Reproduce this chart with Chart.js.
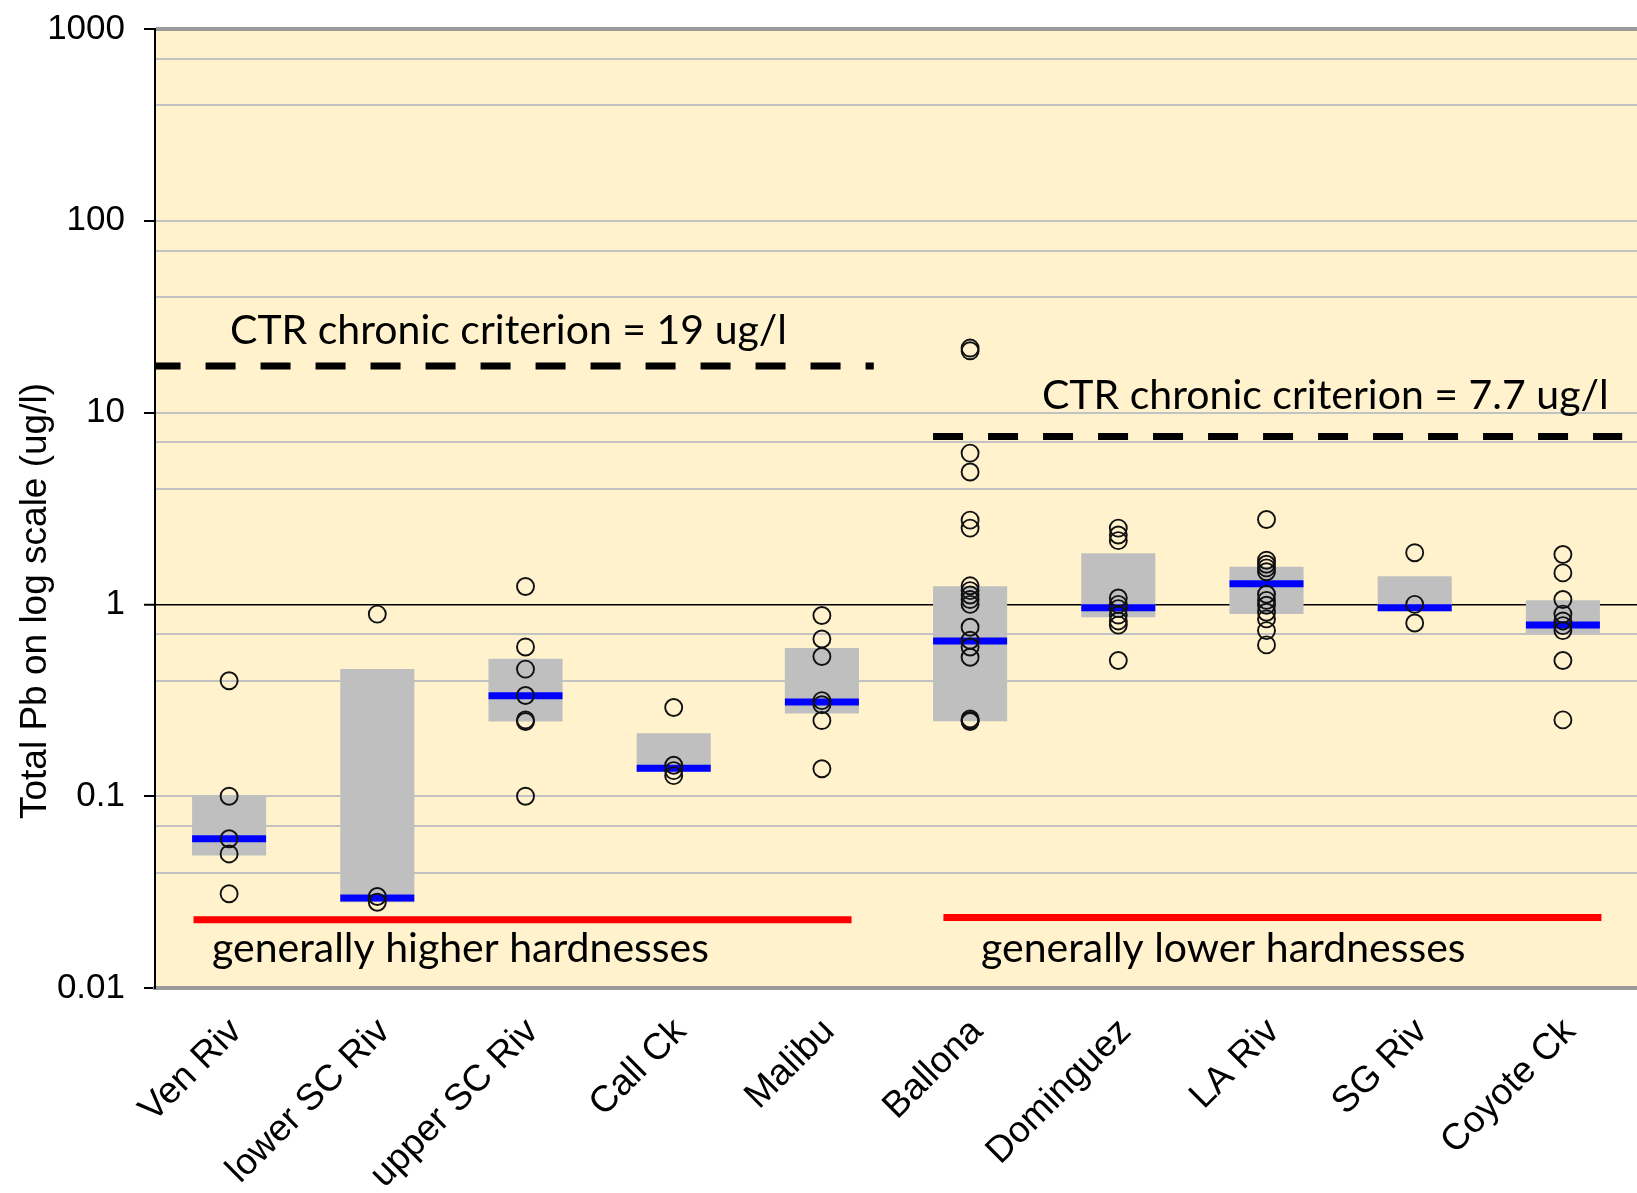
<!DOCTYPE html>
<html>
<head>
<meta charset="utf-8">
<script src="https://cdn.jsdelivr.net/npm/chart.js@4.4.1/dist/chart.umd.min.js"></script>
<style>
  html, body { margin: 0; padding: 0; background: #fff; }
  #wrap { width: 1637px; height: 1193px; position: relative; }
</style>
</head>
<body>
<div id="wrap"><canvas id="pb"></canvas></div>
<script>
(function () {
  'use strict';

  const sites = ['Ven Riv', 'lower SC Riv', 'upper SC Riv', 'Call Ck', 'Malibu',
                 'Ballona', 'Dominguez', 'LA Riv', 'SG Riv', 'Coyote Ck'];

  // individual samples, ug/l
  const venRiv    = [0.40, 0.10, 0.06, 0.05, 0.031];
  const lowerSC   = [0.89, 0.030, 0.028];
  const upperSC   = [1.24, 0.60, 0.46, 0.335, 0.25, 0.245, 0.10];
  const callCk    = [0.29, 0.145, 0.136, 0.128];
  const malibu    = [0.875, 0.66, 0.535, 0.315, 0.30, 0.248, 0.139];
  const ballona   = [21.7, 21.0, 6.15, 4.9, 2.75, 2.5, 1.25, 1.18, 1.12, 1.06, 1.0,
                     0.76, 0.65, 0.6, 0.53, 0.253, 0.248, 0.245];
  const dominguez = [2.5, 2.3, 2.15, 1.08, 1.0, 0.95, 0.88, 0.82, 0.78, 0.51];
  const laRiv     = [2.77, 1.7, 1.62, 1.55, 1.48, 1.13, 1.05, 0.99, 0.91, 0.84, 0.73, 0.615];
  const sgRiv     = [1.86, 1.0, 0.80];
  const coyoteCk  = [1.82, 1.46, 1.06, 0.89, 0.82, 0.775, 0.73, 0.51, 0.25];
  const samples = [venRiv, lowerSC, upperSC, callCk, malibu, ballona, dominguez, laRiv, sgRiv, coyoteCk];

  // grey boxes (quartiles) and blue medians
  const boxLow  = [0.049, 0.028, 0.245, 0.134, 0.27, 0.246, 0.857, 0.89, 0.92, 0.71];
  const boxHigh = [0.10, 0.46, 0.52, 0.213, 0.593, 1.245, 1.85, 1.57, 1.40, 1.05];
  const medians = [0.06, 0.0295, 0.334, 0.14, 0.31, 0.645, 0.96, 1.28, 0.96, 0.78];

  // criterion lines (level as drawn in the picture) and their x spans in site units
  const criterionHigh = 17.5;
  const criterionHighSpan = [-0.53, 4.35];
  const criterionLow = 7.5;
  const criterionLowSpan = [4.75, 9.4];

  // red hardness group bars
  const hardHigh = 0.0227;
  const hardHighSpan = [-0.24, 4.2];
  const hardLow = 0.0233;
  const hardLowSpan = [4.82, 9.26];

  const yMajorTicks = [0.01, 0.1, 1, 10, 100, 1000];
  const yTickLabels = ['0.01', '0.1', '1', '10', '100', '1000'];
  const yTitle = 'Total Pb on log scale (ug/l)';

  const notes = [
    { text: 'CTR chronic criterion = 19 ug/l', x: 0.006, y: 22.9 },
    { text: 'CTR chronic criterion = 7.7 ug/l', x: 5.485, y: 10.5 },
    { text: 'generally higher hardnesses', x: -0.115, y: 0.01365 },
    { text: 'generally lower hardnesses', x: 5.074, y: 0.01365 }
  ];

  function same(a, b) { return Math.abs(a / b - 1) < 1e-9; }
  function majorIndex(v) {
    for (let i = 0; i < yMajorTicks.length; i++) if (same(v, yMajorTicks[i])) return i;
    return -1;
  }
  function span(s, level) { return [{ x: s[0], y: level }, { x: s[1], y: level }]; }

  const pointData = [];
  samples.forEach(function (arr, i) {
    arr.forEach(function (v) { pointData.push({ x: i, y: v }); });
  });

  const plotBg = {
    id: 'plotBg',
    beforeDraw: function (chart) {
      const a = chart.chartArea, ctx = chart.ctx;
      ctx.save();
      ctx.fillStyle = '#fff2cc';
      ctx.fillRect(a.left, a.top, a.right - a.left, a.bottom - a.top);
      ctx.restore();
    }
  };

  const noteText = {
    id: 'noteText',
    afterDatasetsDraw: function (chart) {
      const ctx = chart.ctx, x = chart.scales.x, y = chart.scales.y;
      ctx.save();
      ctx.font = '41px Lato, "Open Sans", sans-serif';
      ctx.fillStyle = '#000';
      ctx.textBaseline = 'alphabetic';
      ctx.textAlign = 'left';
      notes.forEach(function (n) {
        ctx.fillText(n.text, x.getPixelForValue(n.x), y.getPixelForValue(n.y));
      });
      // y axis title, centred lower than the axis like the original
      ctx.font = '37px "Liberation Sans", Arial, sans-serif';
      ctx.textAlign = 'center';
      ctx.textBaseline = 'middle';
      ctx.translate(36, 601);
      ctx.rotate(-Math.PI / 2);
      ctx.fillText(yTitle, 0, 0);
      ctx.restore();
    }
  };

  const lineBase = { type: 'line', fill: false, pointRadius: 0, borderWidth: 7, borderCapStyle: 'butt', order: 0 };

  new Chart(document.getElementById('pb'), {
    type: 'bar',
    data: {
      datasets: [
        Object.assign({}, lineBase, { data: span(criterionHighSpan, criterionHigh), borderColor: '#000', borderDash: [30, 25] }),
        Object.assign({}, lineBase, { data: span(criterionLowSpan, criterionLow), borderColor: '#000', borderDash: [30, 25] }),
        Object.assign({}, lineBase, { data: span(hardHighSpan, hardHigh), borderColor: '#ff0000' }),
        Object.assign({}, lineBase, { data: span(hardLowSpan, hardLow), borderColor: '#ff0000' }),
        {
          type: 'scatter',
          data: pointData,
          pointStyle: 'circle',
          pointRadius: 8.5,
          pointBorderWidth: 1.9,
          pointBorderColor: '#111',
          pointBackgroundColor: 'rgba(0,0,0,0)',
          order: 1
        },
        {
          type: 'scatter',
          data: medians.map(function (v, i) { return { x: i, y: v }; }),
          pointStyle: 'line',
          pointRadius: 37,
          pointBorderWidth: 7,
          pointBorderColor: '#0000ff',
          order: 2
        },
        {
          type: 'bar',
          data: boxLow.map(function (v, i) { return { x: i, y: [v, boxHigh[i]] }; }),
          backgroundColor: '#bfbfbf',
          borderWidth: 0,
          barPercentage: 0.5,
          categoryPercentage: 1,
          order: 3
        }
      ]
    },
    options: {
      responsive: true,
      maintainAspectRatio: false,
      animation: false,
      layout: { autoPadding: false, padding: { top: 29, right: 0, bottom: 0, left: 0 } },
      plugins: {
        legend: { display: false },
        tooltip: { enabled: false }
      },
      scales: {
        x: {
          type: 'linear',
          offset: false,
          min: -0.5,
          max: 9.5,
          afterBuildTicks: function (s) { s.ticks = sites.map(function (_, i) { return { value: i }; }); },
          afterFit: function (s) {
            s.height = 205;
            s.paddingLeft = 0;
            s.paddingRight = 0;
          },
          grid: { display: false, drawTicks: false },
          border: { display: true, color: '#9a9a9a', width: 4 },
          ticks: {
            autoSkip: false,
            minRotation: 45,
            maxRotation: 45,
            padding: 22,
            labelOffset: 7,
            color: '#000',
            font: { family: '"Liberation Sans", Arial, sans-serif', size: 37 },
            callback: function (v) { return sites[v]; }
          }
        },
        y: {
          type: 'logarithmic',
          min: 0.01,
          max: 1000,
          afterBuildTicks: function (s) {
            const t = [];
            for (let e = -2; e < 3; e++) {
              for (let m = 1; m < 10; m++) t.push({ value: m * Math.pow(10, e) });
            }
            t.push({ value: 1000 });
            s.ticks = t;
          },
          afterFit: function (s) {
            s.width = 155;
            s.paddingTop = 0;
            s.paddingBottom = 0;
          },
          border: { display: true, color: '#000', width: 2 },
          grid: {
            color: function (c) {
              if (!c.tick) return '#c2c2c2';
              if (same(c.tick.value, 1)) return '#000';
              if (same(c.tick.value, 1000)) return '#9a9a9a';
              return '#c2c2c2';
            },
            lineWidth: function (c) {
              if (!c.tick) return 2;
              if (same(c.tick.value, 1)) return 1.5;
              if (same(c.tick.value, 1000)) return 4;
              return 2;
            },
            tickColor: function (c) {
              return c.tick && majorIndex(c.tick.value) >= 0 ? '#000' : 'rgba(0,0,0,0)';
            },
            tickLength: 11,
            tickWidth: 2
          },
          ticks: {
            padding: 19,
            color: '#000',
            font: { family: '"Liberation Sans", Arial, sans-serif', size: 35 },
            callback: function (v) {
              const k = majorIndex(v);
              return k >= 0 ? yTickLabels[k] : '';
            }
          }
        }
      }
    },
    plugins: [plotBg, noteText]
  });
})();
</script>
</body>
</html>
